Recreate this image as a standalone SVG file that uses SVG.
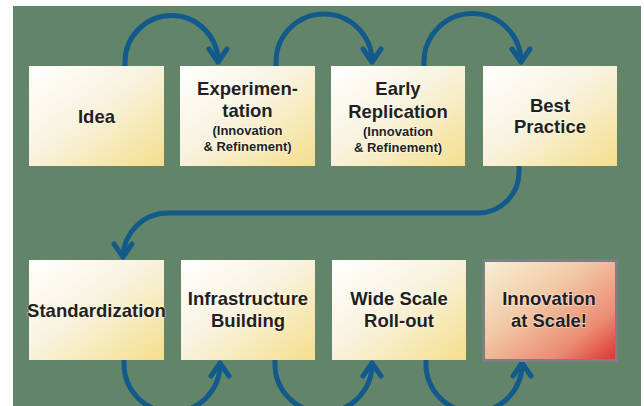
<svg xmlns="http://www.w3.org/2000/svg" width="644" height="406" viewBox="0 0 644 406">
<defs>
<linearGradient id="gY" x1="0" y1="0" x2="1" y2="1">
<stop offset="0" stop-color="#ffffff"/>
<stop offset="0.45" stop-color="#f8f3e0"/>
<stop offset="1" stop-color="#f5de8c"/>
</linearGradient>
<linearGradient id="gR" x1="0" y1="0" x2="1" y2="1">
<stop offset="0" stop-color="#f6f1d6"/>
<stop offset="0.4" stop-color="#f2c9a6"/>
<stop offset="0.75" stop-color="#eb8b72"/>
<stop offset="1" stop-color="#e0302a"/>
</linearGradient>
<style>
.box{fill:url(#gY);}
.t{font-family:"Liberation Sans",Arial,sans-serif;font-weight:bold;fill:#231f20;text-anchor:middle;stroke:#ffffff;stroke-opacity:0.45;stroke-width:1.6;paint-order:stroke;}
.big{font-size:18.5px;}
.small{font-size:13px;}
.c{fill:none;stroke:#125a8b;stroke-width:5;}
.h{fill:none;stroke:#125a8b;stroke-width:5;stroke-linejoin:round;stroke-linecap:round;}
</style>
</defs>
<rect x="13" y="6" width="628" height="400" fill="#628469"/>
<g id="connectors">
<path class="c" d="M125,66 L125,62 A46.5,46.5 0 0 1 218,62 L218,63"/>
<polyline class="h" points="209,49 218,62 227,49"/>
<path class="c" d="M276,66 L276,62 A48,48 0 0 1 372,62 L372,63"/>
<polyline class="h" points="363,49 372,62 381,49"/>
<path class="c" d="M424,66 L424,62 A48.5,48.5 0 0 1 521,62 L521,63"/>
<polyline class="h" points="512,49 521,62 530,49"/>
<path class="c" d="M519,166 L519,172 A41,41 0 0 1 478,213 L168,213 A45,45 0 0 0 123,258"/>
<polyline class="h" points="114,244 123,257 132,244"/>
<path class="c" d="M124,360 L124,364 A48,48 0 0 0 220,364 L220,363"/>
<polyline class="h" points="211,376 220,363 229,376"/>
<path class="c" d="M275,360 L275,364 A48.5,48.5 0 0 0 372,364 L372,363"/>
<polyline class="h" points="363,376 372,363 381,376"/>
<path class="c" d="M426,360 L426,364 A48,48 0 0 0 522,364 L522,363"/>
<polyline class="h" points="513,376 522,363 531,376"/>
</g>
<g id="idea">
<rect class="box" x="29" y="66" width="135" height="100"/>
<text class="t big" x="96.5" y="123">Idea</text>
</g>
<g id="experimentation">
<rect class="box" x="180" y="66" width="135" height="100"/>
<text class="t big" x="247.5" y="95">Experimen-</text>
<text class="t big" x="247.5" y="117">tation</text>
<text class="t small" x="247.5" y="135">(Innovation</text>
<text class="t small" x="247.5" y="151">&amp; Refinement)</text>
</g>
<g id="early-replication">
<rect class="box" x="331" y="66" width="134" height="100"/>
<text class="t big" x="398" y="95">Early</text>
<text class="t big" x="398" y="118">Replication</text>
<text class="t small" x="398" y="136">(Innovation</text>
<text class="t small" x="398" y="152">&amp; Refinement)</text>
</g>
<g id="best-practice">
<rect class="box" x="483" y="66" width="134" height="100"/>
<text class="t big" x="550" y="112">Best</text>
<text class="t big" x="550" y="133">Practice</text>
</g>
<g id="standardization">
<rect class="box" x="29" y="260" width="135" height="100"/>
<text class="t big" x="96.5" y="317">Standardization</text>
</g>
<g id="infrastructure">
<rect class="box" x="181" y="260" width="134" height="100"/>
<text class="t big" x="248" y="305">Infrastructure</text>
<text class="t big" x="248" y="327">Building</text>
</g>
<g id="wide-scale">
<rect class="box" x="332" y="260" width="134" height="100"/>
<text class="t big" x="399" y="305">Wide Scale</text>
<text class="t big" x="399" y="327">Roll-out</text>
</g>
<g id="innovation-at-scale">
<rect x="483.5" y="260.5" width="133" height="100" fill="url(#gR)" stroke="#7c8084" stroke-width="3"/>
<text class="t big" x="549" y="305">Innovation</text>
<text class="t big" x="549" y="327">at Scale!</text>
</g>
</svg>
